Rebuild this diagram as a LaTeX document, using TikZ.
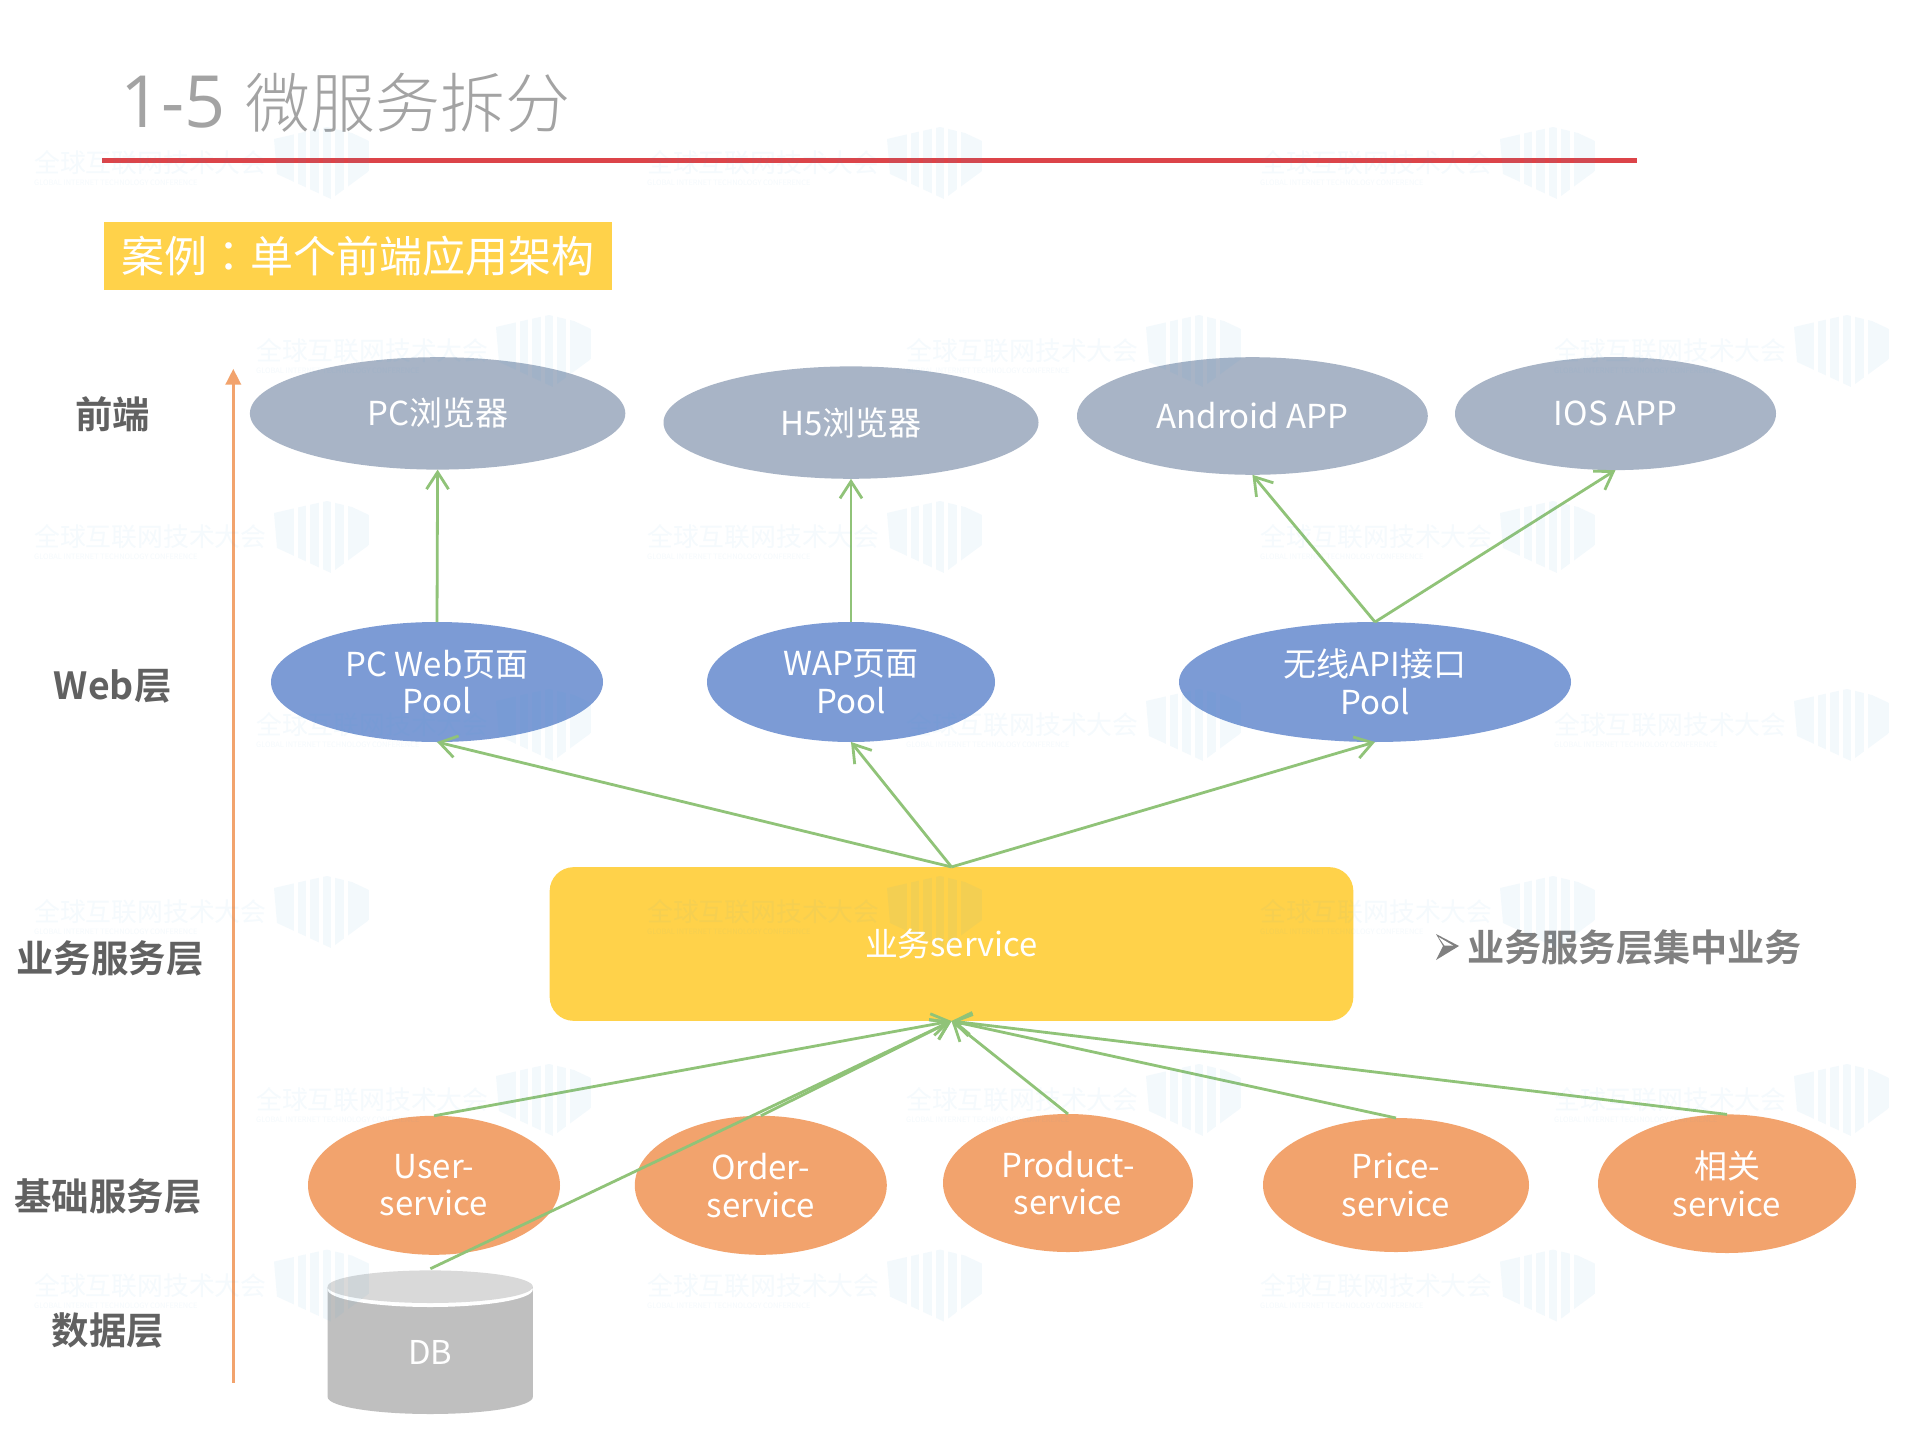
\documentclass[tikz,border=0pt]{standalone}
\usepackage{fontspec}
\usetikzlibrary{arrows.meta,shapes.geometric}
\setmainfont{Noto Sans CJK SC}[BoldFont={Noto Sans CJK SC Bold}]
\newfontfamily\lightfont{Noto Sans CJK SC Light}
\newfontfamily\tcfont{Noto Sans CJK TC}
\newfontfamily\latinlight{Open Sans}
\definecolor{topc}{HTML}{A8B4C6}
\definecolor{webc}{HTML}{7C9BD5}
\definecolor{basec}{HTML}{F2A36D}
\definecolor{gold}{HTML}{FFD24A}
\definecolor{arrowc}{HTML}{90C378}
\definecolor{redl}{HTML}{DC4449}
\definecolor{wm}{HTML}{3F9FD8}
\definecolor{dbbody}{HTML}{BFBFBF}
\definecolor{dbtopc}{HTML}{D9D9D9}
\tikzset{
 x=1pt,y=-1pt,
 ell/.style={ellipse,inner sep=0pt,outer sep=0pt,text=white,align=center,font=\fontsize{33}{37.6}\selectfont},
 topn/.style={ell,fill=topc},
 webn/.style={ell,fill=webc},
 basen/.style={ell,fill=basec},
 conn/.style={draw=arrowc,line width=2.8pt,-{Straight Barb[length=17pt,width=22pt,line width=2.8pt]}},
 lay/.style={font=\fontsize{37.4}{37.6}\bfseries\selectfont,text=black!62,inner sep=0pt},
}
\newcommand{\wmark}[3]{%
 \begin{scope}[shift={(#1,#2)},wm]
  \node[anchor=west,inner sep=0pt,opacity=.05,font=\fontsize{25.8}{26}\selectfont] (wmt#3) at (0,0) {全球互联网技术大会};
  \node[anchor=west,inner sep=0pt,opacity=.05,font=\fontsize{7.4}{8}\selectfont] (wms#3) at (0,20) {GLOBAL INTERNET TECHNOLOGY CONFERENCE};
  \begin{scope}[opacity=.06]
   \clip (240,-24) -- (266,-30) -- (293,-36) -- (318,-30) -- (335,-22) -- (335,8) -- (297,36) -- (243,11) -- cycle;
   \fill (240,-40) rectangle (260,40);
   \fill (264,-40) rectangle (272,40);
   \fill (276,-40) rectangle (285,40);
   \fill (289,-40) rectangle (297,40);
   \fill (301,-40) rectangle (310,40);
   \fill (314,-40) rectangle (335,40);
  \end{scope}
 \end{scope}}
\begin{document}
\begin{tikzpicture}
\useasboundingbox (0,0) rectangle (1919,1439);
\fill[white] (0,0) rectangle (1919,1439);
% title
\node[anchor=west,inner sep=0pt,font=\fontsize{65}{65}\lightfont,text=black!36] (title) at (120,103) {{\latinlight\fontsize{72}{72}\selectfont 1-5}\hspace{20pt}微服务拆分};
\fill[redl] (102,158) rectangle (1636.5,163.5);
\node[fill=gold,minimum width=508.5pt,minimum height=68pt,inner sep=0pt,anchor=north west,text=white,font=\fontsize{43}{43}\selectfont] (case) at (103.5,222) {\raisebox{1pt}{案例{\tcfont ：}单个前端应用架构}};
% side arrow
\coordinate (axisb) at (233.3,1382.5);
\coordinate (axist) at (233.3,368.7);
\draw[basec,line width=3.6pt,-{Triangle[length=16pt,width=15pt]}] (axisb) -- (axist);
% layer labels
\node[lay] (l1) at (112.7,414) {前端};
\node[lay] (l2) at (112.7,686) {Web层};
\node[lay] (l3) at (110,958) {业务服务层};
\node[lay] (l4) at (108,1196) {基础服务层};
\node[lay] (l5) at (108,1330) {数据层};
% top row
\node[topn,minimum width=375.4pt,minimum height=112.4pt] (pc) at (437.6,413.4) {PC浏览器};
\node[topn,minimum width=375pt,minimum height=112.4pt] (h5) at (851,422.6) {H5浏览器};
\node[topn,minimum width=350.8pt,minimum height=117.6pt] (android) at (1252.4,416) {Android APP};
\node[topn,minimum width=321pt,minimum height=113pt] (ios) at (1615.5,413.6) {IOS APP};
% web row
\node[webn,minimum width=332pt,minimum height=120pt] (pcweb) at (437,682) {PC Web页面\\Pool};
\node[webn,minimum width=288pt,minimum height=120pt] (wap) at (851,682) {WAP页面\\Pool};
\node[webn,minimum width=392pt,minimum height=120pt] (api) at (1375,682) {无线API接口\\Pool};
% service
\node[fill=gold,rounded corners=24pt,minimum width=803.7pt,minimum height=153.7pt,inner sep=0pt,text=white,font=\fontsize{32.8}{37.6}\selectfont] (svc) at (951.5,944) {业务service};
% note
\fill[black!50] (1436,934) -- (1459,946) -- (1436,960) -- (1443,946) -- cycle;
\fill[white] (1438.5,937) -- (1453,945.5) -- (1444.5,945.5) -- cycle;
\node[anchor=west,inner sep=0pt,font=\fontsize{37.2}{37}\bfseries\selectfont,text=black!50] (note) at (1467,947) {业务服务层集中业务};
% base row
\node[basen,minimum width=252pt,minimum height=139pt] (user) at (434,1185.3) {User-\\service};
\node[basen,minimum width=252pt,minimum height=139pt] (order) at (760.8,1185.3) {Order-\\service};
\node[basen,minimum width=250pt,minimum height=138pt] (product) at (1068,1183) {Product-\\service};
\node[basen,minimum width=266pt,minimum height=134pt] (price) at (1396,1185) {Price-\\service};
\node[basen,minimum width=258pt,minimum height=138.6pt] (related) at (1727,1183.7) {相关\\service};
% database
\fill[dbbody] (327.6,1287) -- (327.6,1397) arc[start angle=180,end angle=360,x radius=102.6,y radius=-17] -- (532.8,1287) -- cycle;
\fill[white] (430.2,1289.5) ellipse[x radius=102.6,y radius=17.5];
\fill[dbtopc] (430.2,1286.7) ellipse[x radius=102.6,y radius=16.3];
\node[inner sep=0pt,text=white,font=\fontsize{32.8}{37.6}\selectfont] (db) at (430.4,1352.7) {DB};
\coordinate (dbtop) at (430.4,1268.7);
% connectors
\draw[conn] (pcweb.north) -- (pc.south);
\draw[conn] (wap.north) -- (h5.south);
\draw[conn] (api.north) -- (android.south);
\draw[conn] (api.north) -- (ios.south);
\draw[conn] (svc.north) -- (pcweb.south);
\draw[conn] (svc.north) -- (wap.south);
\draw[conn] (svc.north) -- (api.south);
\draw[conn] (user.north) -- (svc.south);
\draw[conn] (order.north) -- (svc.south);
\draw[conn] (product.north) -- (svc.south);
\draw[conn] (price.north) -- (svc.south);
\draw[conn] (related.north) -- (svc.south);
\draw[conn] (dbtop) -- (svc.south);
% watermark
\foreach \px/\pn in {34/a,647/b,1260/c}{
 \foreach \py/\pm in {163/a,537/b,912/c,1285.6/d}{
  \wmark{\px}{\py}{\pn\pm}
 }}
\foreach \px/\pn in {256/d,906/e,1554/f}{
 \foreach \py/\pm in {351/a,725/b,1100/c}{
  \wmark{\px}{\py}{\pn\pm}
 }}
\end{tikzpicture}
\end{document}
